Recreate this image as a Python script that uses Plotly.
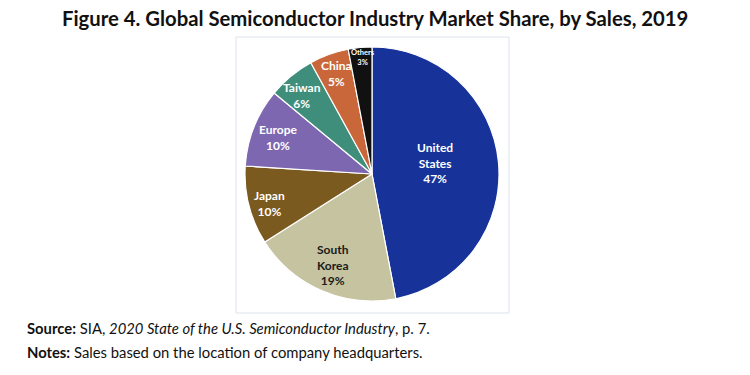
import math
import plotly.graph_objects as go

labels = ["United States", "South Korea", "Japan", "Europe", "Taiwan", "China", "Others"]
display = ["United<br>States", "South<br>Korea", "Japan", "Europe", "Taiwan", "China", "Others"]
shares = [47, 19, 10, 10, 6, 5, 3]

colors = ["#17339A", "#C5C3A0", "#7A5A1F", "#7E67B1", "#3F8E7B", "#C9673A", "#111111"]
text_colors = ["white", "#1a1a1a", "white", "white", "white", "white", "white"]
text_sizes = [12, 12, 12, 12, 12, 12, 7.5]
label_radius = [0.50, 0.78, 0.84, 0.79, 0.83, 0.84, 0.92]   # fraction of pie radius
label_shift = [-4.5, 0, -1.5, -0.5, -2, 0.5, 1]               # degrees

W, H = 750, 375
dom_x = [244 / W, 500 / W]
dom_y = [1 - 301 / H, 1 - 47 / H]

fig = go.Figure()
fig.add_trace(go.Pie(
    labels=labels,
    values=shares,
    sort=False,
    direction="clockwise",
    rotation=0,
    marker=dict(colors=colors, line=dict(color="white", width=1.2)),
    textinfo="none",
    showlegend=False,
    hoverinfo="label+percent",
    domain=dict(x=dom_x, y=dom_y),
))

# pie geometry (pixels) derived from the domain
cx = (dom_x[0] + dom_x[1]) / 2 * W
cy = (1 - (dom_y[0] + dom_y[1]) / 2) * H
R = min((dom_x[1] - dom_x[0]) * W, (dom_y[1] - dom_y[0]) * H) / 2
total = sum(shares)
cum = 0
for lab, v, tc, ts, fr, sh in zip(display, shares, text_colors, text_sizes, label_radius, label_shift):
    mid = (cum + v / 2) / total * 2 * math.pi + math.radians(sh)
    cum += v
    px = cx + fr * R * math.sin(mid)
    py = cy - fr * R * math.cos(mid)
    fig.add_annotation(xref="paper", yref="paper", x=px / W, y=1 - py / H,
                       text=f"<b>{lab}<br>{v}%</b>", showarrow=False,
                       xanchor="center", yanchor="middle", align="center",
                       font=dict(family="Lato", size=ts, color=tc))

fig.add_shape(type="rect", xref="paper", yref="paper",
              x0=236 / W, x1=509 / W, y0=1 - 313 / H, y1=1 - 37 / H,
              line=dict(color="#DCE2EA", width=1), layer="below")

fig.add_annotation(xref="paper", yref="paper", x=0.5, y=1 - 18 / H,
                   text="<b>Figure 4. Global Semiconductor Industry Market Share, by Sales, 2019</b>",
                   showarrow=False, xanchor="center", yanchor="middle",
                   font=dict(family="Lato", size=20.3, color="#111111"))
fig.add_annotation(xref="paper", yref="paper", x=25 / W, y=1 - 328 / H,
                   text="<b>Source:</b> SIA, <i>2020 State of the U.S. Semiconductor Industry</i>, p. 7.",
                   showarrow=False, xanchor="left", yanchor="middle",
                   font=dict(family="Lato", size=14.8, color="#111111"))
fig.add_annotation(xref="paper", yref="paper", x=25 / W, y=1 - 352 / H,
                   text="<b>Notes:</b> Sales based on the location of company headquarters.",
                   showarrow=False, xanchor="left", yanchor="middle",
                   font=dict(family="Lato", size=14.8, color="#111111"))

fig.update_layout(width=W, height=H, margin=dict(l=0, r=0, t=0, b=0),
                  paper_bgcolor="white", plot_bgcolor="white")
fig.write_html("out.html", config={"displayModeBar": False},
               post_script="document.body.style.margin='0';")
